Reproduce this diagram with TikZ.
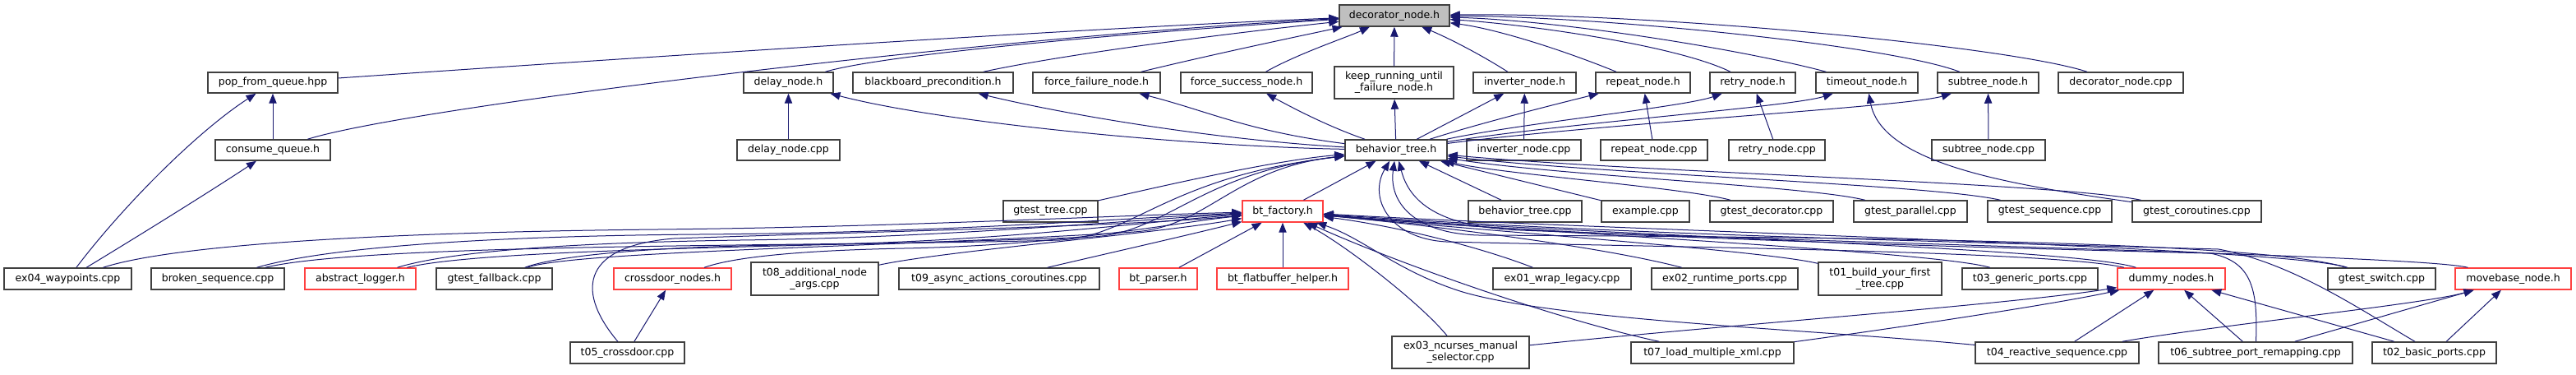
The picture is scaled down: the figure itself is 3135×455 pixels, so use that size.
\documentclass[tikz,border=0pt]{standalone}
\usepackage{fontspec}
\newfontfamily\dvs{DejaVu Sans}
\usetikzlibrary{arrows.meta}
\definecolor{edgec}{RGB}{25,25,112}
\definecolor{boxc}{RGB}{64,64,64}
\definecolor{redc}{RGB}{255,64,64}
\definecolor{grayf}{RGB}{191,191,191}
\tikzset{
  nb/.style={draw=boxc, line width=1.1pt, fill=white, inner sep=0pt, align=center,
    font=\dvs\fontsize{9.4}{10.5}\selectfont, text=black},
  rb/.style={nb, draw=redc},
  gb/.style={nb, fill=grayf},
  e/.style={draw=edgec, line width=0.75pt, -{Triangle[length=9pt,width=7pt]}},
}
\newcommand\bx[7][nb]{\node[#1,minimum width={(#5-#3)*0.75pt},minimum height={(#6-#4)*0.75pt}] (#2) at ({(#3+#5)/2},{(#4+#6)/2}) {#7};}
\begin{document}
\begin{tikzpicture}[x=0.75pt,y=-0.75pt]
\fill[white] (0,0) rectangle (3135,455);
\useasboundingbox (0,0) rectangle (3135,455);
% row 1
\bx[gb]{dec}{1630}{6}{1764}{32}{decorator\_node.h}
% row 2
\bx{pop}{253}{88}{411}{113}{pop\_from\_queue.hpp}
\bx{delay}{905}{88}{1014}{113}{delay\_node.h}
\bx{bbp}{1038}{88}{1233}{113}{blackboard\_precondition.h}
\bx{ffail}{1257}{88}{1412}{113}{force\_failure\_node.h}
\bx{fsucc}{1437}{88}{1597}{113}{force\_success\_node.h}
\bx{keep}{1624}{81}{1769}{120}{keep\_running\_until\\\_failure\_node.h}
\bx{inv}{1793}{88}{1918}{113}{inverter\_node.h}
\bx{rep}{1942}{88}{2057}{113}{repeat\_node.h}
\bx{retry}{2081}{88}{2185}{113}{retry\_node.h}
\bx{tout}{2210}{88}{2334}{113}{timeout\_node.h}
\bx{sub}{2358}{88}{2481}{113}{subtree\_node.h}
\bx{deccpp}{2505}{88}{2657}{113}{decorator\_node.cpp}
% row 3
\bx{cq}{262}{170}{402}{195}{consume\_queue.h}
\bx{delaycpp}{897}{170}{1022}{195}{delay\_node.cpp}
\bx{bt}{1637}{170}{1761}{195}{behavior\_tree.h}
\bx{invcpp}{1785}{170}{1924}{195}{inverter\_node.cpp}
\bx{repcpp}{1948}{170}{2078}{195}{repeat\_node.cpp}
\bx{retrycpp}{2104}{170}{2221}{195}{retry\_node.cpp}
\bx{subcpp}{2351}{170}{2489}{195}{subtree\_node.cpp}
% row 4
\bx{gtree}{1221}{244}{1336}{270}{gtest\_tree.cpp}
\bx[rb]{fac}{1512}{244}{1610}{270}{bt\_factory.h}
\bx{btcpp}{1787}{244}{1925}{270}{behavior\_tree.cpp}
\bx{example}{1949}{244}{2056}{270}{example.cpp}
\bx{gdec}{2081}{244}{2231}{270}{gtest\_decorator.cpp}
\bx{gpar}{2256}{244}{2394}{270}{gtest\_parallel.cpp}
\bx{gseq}{2419}{244}{2570}{270}{gtest\_sequence.cpp}
\bx{gcor}{2595}{244}{2752}{270}{gtest\_coroutines.cpp}
% row 5
\bx{ex04}{5}{326}{160}{352}{ex04\_waypoints.cpp}
\bx{broken}{184}{326}{346}{352}{broken\_sequence.cpp}
\bx[rb]{alog}{371}{326}{506}{352}{abstract\_logger.h}
\bx{gfall}{531}{326}{672}{352}{gtest\_fallback.cpp}
\bx[rb]{cross}{747}{326}{890}{352}{crossdoor\_nodes.h}
\bx{t08}{914}{319}{1069}{359}{t08\_additional\_node\\\_args.cpp}
\bx{t09}{1094}{326}{1338}{352}{t09\_async\_actions\_coroutines.cpp}
\bx[rb]{parser}{1362}{326}{1457}{352}{bt\_parser.h}
\bx[rb]{flat}{1481}{326}{1641}{352}{bt\_flatbuffer\_helper.h}
\bx{ex01}{1817}{326}{1985}{352}{ex01\_wrap\_legacy.cpp}
\bx{ex02}{2010}{326}{2188}{352}{ex02\_runtime\_ports.cpp}
\bx{t01}{2213}{319}{2363}{359}{t01\_build\_your\_first\\\_tree.cpp}
\bx{t03}{2388}{326}{2553}{352}{t03\_generic\_ports.cpp}
\bx[rb]{dummy}{2577}{326}{2708}{352}{dummy\_nodes.h}
\bx{gsw}{2833}{326}{2964}{352}{gtest\_switch.cpp}
\bx[rb]{move}{2988}{326}{3129}{352}{movebase\_node.h}
% row 6
\bx{t05}{694}{416}{833}{442}{t05\_crossdoor.cpp}
\bx{ex03}{1694}{409}{1861}{448}{ex03\_ncurses\_manual\\\_selector.cpp}
\bx{t07}{1985}{416}{2183}{442}{t07\_load\_multiple\_xml.cpp}
\bx{t04}{2404}{416}{2603}{442}{t04\_reactive\_sequence.cpp}
\bx{t06}{2627}{416}{2863}{442}{t06\_subtree\_port\_remapping.cpp}
\bx{t02}{2887}{416}{3038}{442}{t02\_basic\_ports.cpp}

% ---- edges into decorator_node.h
\draw[e] (pop) .. controls (700,75) and (1300,35) .. (dec);
\draw[e] (cq) .. controls (500,130) and (1200,45) .. (dec);
\draw[e] (delay) .. controls (1080,65) and (1400,38) .. (dec);
\draw[e] (bbp) .. controls (1300,65) and (1500,40) .. (dec);
\draw[e] (ffail) .. controls (1480,65) and (1600,40) .. (dec);
\draw[e] (fsucc) .. controls (1580,65) and (1640,45) .. (dec);
\draw[e] (keep) -- (dec);
\draw[e] (inv) .. controls (1800,65) and (1760,45) .. (dec);
\draw[e] (rep) .. controls (1900,60) and (1820,35) .. (dec);
\draw[e] (retry) .. controls (2040,55) and (1860,30) .. (dec);
\draw[e] (tout) .. controls (2120,60) and (1900,25) .. (dec);
\draw[e] (sub) .. controls (2300,55) and (1950,20) .. (dec);
\draw[e] (deccpp) .. controls (2440,55) and (2000,15) .. (dec);
% ---- pop / consume
\draw[e] (cq) -- (pop);
\draw[e] (ex04) .. controls (150,250) and (240,160) .. (pop);
\draw[e] (ex04) .. controls (180,280) and (260,230) .. (cq);
% ---- row 2 from row 3
\draw[e] (delaycpp) -- (delay);
\draw[e] (bt) .. controls (1450,178) and (1150,150) .. (delay);
\draw[e] (bt) .. controls (1480,170) and (1300,140) .. (bbp);
\draw[e] (bt) .. controls (1520,160) and (1470,135) .. (ffail);
\draw[e] (bt) .. controls (1620,155) and (1580,135) .. (fsucc);
\draw[e] (bt) -- (keep);
\draw[e] (bt) -- (inv);
\draw[e] (bt) .. controls (1800,150) and (1900,125) .. (rep);
\draw[e] (bt) .. controls (1850,150) and (2050,130) .. (retry);
\draw[e] (bt) .. controls (1900,150) and (2180,130) .. (tout);
\draw[e] (bt) .. controls (1950,150) and (2320,130) .. (sub);
\draw[e] (invcpp) -- (inv);
\draw[e] (repcpp) -- (rep);
\draw[e] (retrycpp) -- (retry);
\draw[e] (subcpp) -- (sub);
\draw[e] (gcor) .. controls (2450,225) and (2290,200) .. (tout);
% ---- into behavior_tree.h
\draw[e] (gtree) .. controls (1420,225) and (1550,195) .. (bt);
\draw[e] (broken) .. controls (450,295) and (1000,300) .. (1290,292) .. controls (1380,287) and (1420,215) .. (bt);
\draw[e] (alog) .. controls (600,300) and (1050,300) .. (1330,288) .. controls (1420,283) and (1460,210) .. (bt);
\draw[e] (gfall) .. controls (700,305) and (1100,300) .. (1380,282) .. controls (1470,276) and (1500,205) .. (bt);
\draw[e] (fac) -- (bt);
\draw[e] (btcpp) -- (bt);
\draw[e] (example) -- (bt);
\draw[e] (gdec) .. controls (2050,228) and (1830,212) .. (bt);
\draw[e] (gpar) .. controls (2200,226) and (1900,214) .. (bt);
\draw[e] (gseq) .. controls (2350,224) and (1950,212) .. (bt);
\draw[e] (gcor) .. controls (2500,222) and (2000,210) .. (bt);
\draw[e] (dummy) .. controls (2500,305) and (2000,300) .. (1760,294) .. controls (1690,290) and (1665,240) .. (bt);
\draw[e] (gsw) .. controls (2750,292) and (2200,288) .. (1800,286) .. controls (1720,284) and (1690,245) .. (bt);
\draw[e] (move) .. controls (2950,312) and (2400,300) .. (1850,280) .. controls (1750,276) and (1715,245) .. (bt);
% ---- into bt_factory.h from the left
\draw[e] (ex04) .. controls (220,295) and (500,282) .. (800,279) .. controls (1100,276) and (1350,262) .. (fac);
\draw[e] (broken) .. controls (400,300) and (600,287) .. (850,285) .. controls (1150,283) and (1350,266) .. (fac);
\draw[e] (alog) .. controls (550,305) and (700,295) .. (900,292) .. controls (1150,289) and (1370,268) .. (fac);
\draw[e] (gfall) .. controls (680,310) and (800,300) .. (950,298) .. controls (1200,296) and (1390,270) .. (fac);
\draw[e] (cross) .. controls (900,310) and (1000,304) .. (1100,302) .. controls (1300,298) and (1420,272) .. (fac);
\draw[e] (t05) .. controls (705,360) and (700,300) .. (820,290) .. controls (1050,282) and (1380,275) .. (fac);
\draw[e] (t08) .. controls (1150,305) and (1400,285) .. (fac);
\draw[e] (t09) .. controls (1340,310) and (1450,285) .. (fac);
\draw[e] (parser) -- (fac);
\draw[e] (flat) -- (fac);
% ---- into bt_factory.h from the right
\draw[e] (ex03) .. controls (1730,370) and (1640,300) .. (fac);
\draw[e] (t07) .. controls (1900,390) and (1700,320) .. (fac);
\draw[e] (t04) .. controls (2200,400) and (1900,390) .. (1780,355) .. controls (1700,330) and (1660,290) .. (fac);
\draw[e] (ex01) .. controls (1800,300) and (1700,275) .. (fac);
\draw[e] (ex02) .. controls (1950,300) and (1750,275) .. (fac);
\draw[e] (t01) .. controls (2150,305) and (1800,280) .. (fac);
\draw[e] (t03) .. controls (2350,305) and (1850,282) .. (fac);
\draw[e] (dummy) .. controls (2520,300) and (1900,285) .. (fac);
\draw[e] (gsw) .. controls (2780,300) and (1950,280) .. (fac);
\draw[e] (t06) .. controls (2748,350) and (2740,318) .. (2690,308) .. controls (2300,298) and (1900,287) .. (fac);
\draw[e] (t02) .. controls (2870,375) and (2790,320) .. (2700,303) .. controls (2300,292) and (1950,284) .. (fac);
% ---- dummy_nodes.h, movebase_node.h, crossdoor_nodes.h
\draw[e] (ex03) .. controls (2100,395) and (2450,370) .. (dummy);
\draw[e] (t07) .. controls (2300,400) and (2500,370) .. (dummy);
\draw[e] (t04) -- (dummy);
\draw[e] (t06) -- (dummy);
\draw[e] (t02) -- (dummy);
\draw[e] (t04) .. controls (2700,395) and (2950,370) .. (move);
\draw[e] (t06) -- (move);
\draw[e] (t02) -- (move);
\draw[e] (t05) -- (cross);
\end{tikzpicture}
\end{document}
